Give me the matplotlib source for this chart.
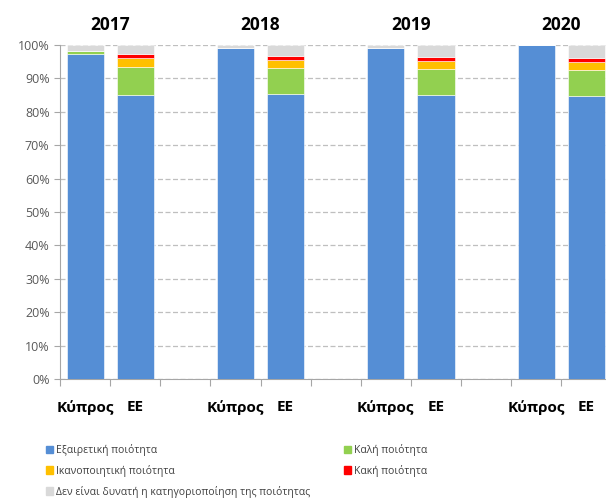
import matplotlib.pyplot as plt
from matplotlib.patches import Patch
from matplotlib.transforms import blended_transform_factory
import numpy as np

plt.rcParams['font.family'] = ['Open Sans', 'DejaVu Sans']

years = ['2017', '2018', '2019', '2020']
groups = ['Κύπρος', 'ΕΕ']
categories = ['Εξαιρετική ποιότητα', 'Καλή ποιότητα', 'Ικανοποιητική ποιότητα',
              'Κακή ποιότητα', 'Δεν είναι δυνατή η κατηγοριοποίηση της ποιότητας']
colors = ['#558ED5', '#92D050', '#FFC000', '#FF0000', '#D9D9D9']

# order: 2017 CY, 2017 EU, 2018 CY, 2018 EU, ...
excellent = [97.3, 85.0, 99.1, 85.2, 99.1, 85.0, 100.0, 84.8]
good      = [0.9, 8.5, 0.0, 8.0, 0.0, 7.9, 0.0, 7.8]
sufficient = [0.0, 2.6, 0.0, 2.4, 0.0, 2.4, 0.0, 2.2]
poor      = [0.0, 1.3, 0.0, 1.2, 0.0, 1.1, 0.0, 1.3]
unknown   = [1.8, 2.6, 0.9, 3.2, 0.9, 3.6, 0.0, 3.9]
series = [excellent, good, sufficient, poor, unknown]

# bar slots: two bars per year followed by an empty slot
pos = []
for i in range(len(years)):
    pos += [i * 3, i * 3 + 1]
pos = np.array(pos)

fig = plt.figure(figsize=(6.06, 5.0), dpi=100)
ax = fig.add_axes([0.099, 0.242, 0.91, 0.668])

bottom = np.zeros(len(pos))
for vals, c in zip(series, colors):
    vals = np.array(vals) / 100
    ax.bar(pos, vals, width=0.74, bottom=bottom, color=c,
           edgecolor='white', linewidth=0.4, zorder=3)
    bottom += vals

ax.set_xlim(-0.5, 10.5)
ax.set_ylim(0, 1)
ax.set_yticks(np.arange(0, 1.01, 0.1))
ax.set_yticklabels([f'{int(round(v * 100))}%' for v in np.arange(0, 1.01, 0.1)],
                   fontsize=9, color='#595959')
ax.yaxis.grid(True, linestyle=(0, (4, 2)), color='#BFBFBF', linewidth=0.9, zorder=0)
ax.tick_params(axis='y', length=4, color='#A6A6A6')

ax.set_xticks(np.arange(-0.5, 10.6, 1))
ax.set_xticklabels([])
ax.tick_params(axis='x', which='major', length=5, color='#A6A6A6')
ax.set_xticks(pos, minor=True)
ax.set_xticklabels(groups * len(years), minor=True, fontsize=11, fontweight='bold')
ax.tick_params(axis='x', which='minor', length=0, pad=15)

for s in ['top', 'right']:
    ax.spines[s].set_visible(False)
for s in ['left', 'bottom']:
    ax.spines[s].set_color('#A6A6A6')

trans = blended_transform_factory(ax.transData, ax.transAxes)
for i, y in enumerate(years):
    ax.text(i * 3 + 0.5, 1.06, y, transform=trans, ha='center', va='center',
            fontsize=12.5, fontweight='bold')

handles = [Patch(color=c) for c in colors]
order = [0, 2, 4, 1, 3]
fig.legend([handles[i] for i in order], [categories[i] for i in order],
           ncol=2, loc='upper left', bbox_to_anchor=(0.06, 0.131),
           frameon=False, fontsize=7.5, handlelength=0.7, handleheight=0.7,
           handletextpad=0.3, columnspacing=3.2, labelspacing=0.85,
           labelcolor='#404040')

fig.savefig('out.png', dpi=100)
